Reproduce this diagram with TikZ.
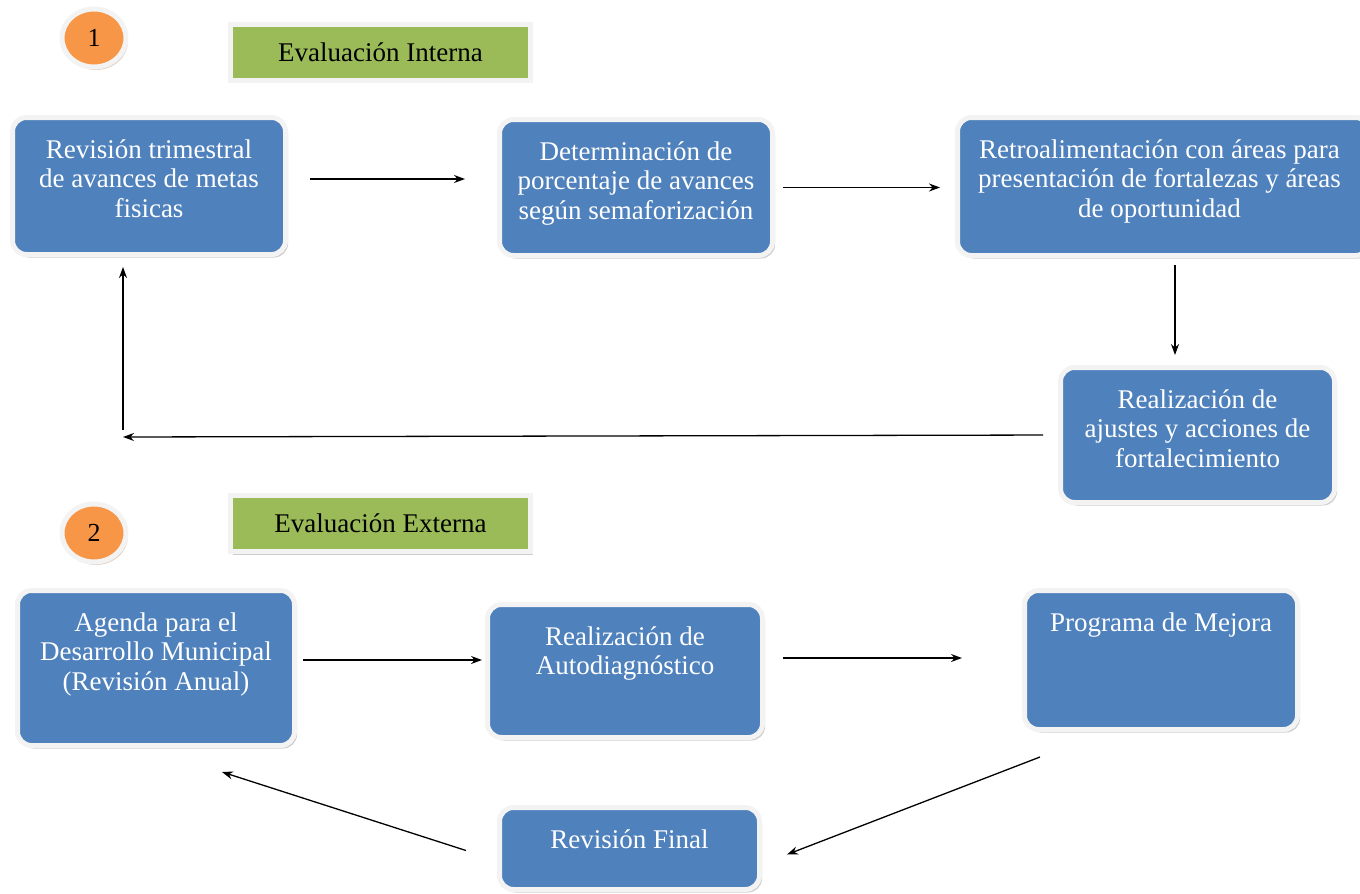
\documentclass[tikz,border=0pt]{standalone}
\usepackage{fontspec}
\setmainfont{Liberation Serif}
\usetikzlibrary{shapes.geometric,arrows.meta,shadows}
\definecolor{azul}{HTML}{4F81BD}
\definecolor{verde}{HTML}{9BBB59}
\definecolor{naranja}{HTML}{F79646}
\definecolor{borde}{HTML}{F3F3F3}
\definecolor{sombra}{HTML}{9C9C9C}
\definecolor{sombrab}{HTML}{C9A98C}

\begin{document}
\begin{tikzpicture}[x=1pt,y=-1pt,->,>={Stealth[length=11pt,width=8pt]},line width=1.3pt]
\tikzstyle{caja}=[rectangle,rounded corners=14pt,fill=azul,draw=borde,line width=5pt,drop shadow={shadow xshift=2.5pt,shadow yshift=-3pt,fill=sombra}]
\tikzstyle{texto}=[anchor=north,align=center,text=white,inner sep=0pt,font=\fontsize{27}{29.5}\selectfont,execute at begin node=\rule{0pt}{21pt}]
\tikzstyle{titulo}=[rectangle,fill=verde,draw=borde,line width=5pt,minimum width=300pt,minimum height=56pt,font=\fontsize{27}{29}\selectfont,drop shadow={shadow xshift=2.5pt,shadow yshift=-3pt,fill=sombra}]
\tikzstyle{numero}=[ellipse,fill=naranja,draw=borde,line width=5pt,minimum width=64pt,minimum height=58pt,font=\fontsize{26}{28}\selectfont,drop shadow={shadow xshift=2pt,shadow yshift=-3pt,fill=sombrab}]
\useasboundingbox (0,0) rectangle (1360,894);

% evaluacion interna
\node[numero] (n1) at (94,38) {1};
\node[titulo] (ti) at (380.5,52) {Evaluación Interna};
\node[caja,minimum width=273pt,minimum height=137pt] (rev) at (149,186) {};
\node[caja,minimum width=273pt,minimum height=136pt] (det) at (636,187.5) {};
\node[caja,minimum width=412pt,minimum height=138pt] (ret) at (1163.5,186.5) {};
\node[caja,minimum width=274pt,minimum height=135pt] (aju) at (1197.5,435) {};
\node[texto] (revt) at ([yshift=-24pt]rev.north) {Revisión trimestral\\de avances de metas\\fisicas};
\node[texto] (dett) at ([yshift=-24pt]det.north) {Determinación de\\porcentaje de avances\\según semaforización};
\node[texto] (rett) at ([xshift=-4pt,yshift=-24pt]ret.north) {Retroalimentación con áreas para\\presentación de fortalezas y áreas\\de oportunidad};
\node[texto] (ajut) at ([yshift=-24pt]aju.north) {Realización de\\ajustes y acciones de\\fortalecimiento};
\coordinate (giro) at (123,437);
\coordinate (baja) at (1175,0);
\draw[shorten <=22pt,shorten >=32pt] ([yshift=7pt]rev.east) -- ([yshift=7pt]rev.east -| det.west);
\draw[shorten <=8pt,shorten >=15pt] (det.east) -- (det.east -| ret.west);
\draw[shorten <=7pt,shorten >=10pt] (baja |- ret.south) -- (baja |- aju.north);
\draw[shorten <=15pt] (aju.west) -- (giro);
\draw[shorten <=7pt,shorten >=10pt] (giro) -- (giro |- rev.south);

% evaluacion externa
\node[numero] (n2) at (94,533) {2};
\node[titulo] (te) at (380.5,523.5) {Evaluación Externa};
\node[caja,minimum width=277pt,minimum height=155pt] (age) at (156,668) {};
\node[caja,minimum width=275pt,minimum height=133pt] (aut) at (625,671) {};
\node[caja,minimum width=273pt,minimum height=139pt] (pro) at (1161,660) {};
\node[caja,minimum width=260pt,minimum height=82pt] (fin) at (629.5,848.5) {};
\node[texto] (aget) at ([yshift=-24pt]age.north) {Agenda para el\\Desarrollo Municipal\\(Revisión Anual)};
\node[texto] (autt) at ([yshift=-24pt]aut.north) {Realización de\\Autodiagnóstico};
\node[texto] (prot) at ([yshift=-22pt]pro.north) {Programa de Mejora};
\node[texto] (fint) at ([yshift=-22pt]fin.north) {Revisión Final};
\draw[shorten <=6pt,shorten >=3pt] ([yshift=8pt]age.east) -- ([yshift=8pt]age.east -| aut.west);
\draw[shorten <=18pt,shorten >=60pt] ([yshift=13pt]aut.east) -- ([yshift=13pt]aut.east -| pro.west);
\draw ([shift={(18,25)}]pro.south west) -- ([shift={(25,6)}]fin.east);
\draw ([shift={(-31,2)}]fin.west) -- ([shift={(66,24)}]age.south);
\end{tikzpicture}
\end{document}
